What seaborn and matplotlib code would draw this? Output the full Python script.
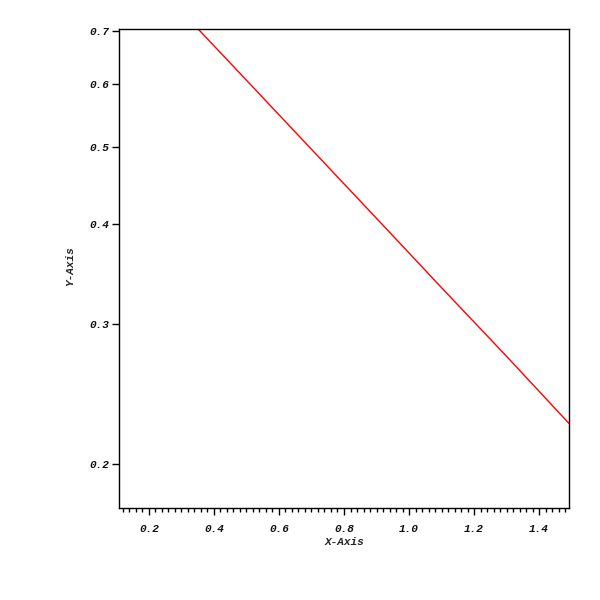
import numpy as np
import matplotlib
matplotlib.use("Agg")
import matplotlib.pyplot as plt
from matplotlib.ticker import MultipleLocator, FixedLocator, FixedFormatter, NullLocator, FormatStrFormatter
from matplotlib.font_manager import FontProperties
import seaborn as sns

# values (straight line on a log y axis)
x_vals = [0.1, 0.3, 0.5, 0.7, 0.9, 1.1, 1.3, 1.5]
y_vals = [0.905, 0.741, 0.607, 0.497, 0.407, 0.333, 0.273, 0.223]
y_ticks = [0.2, 0.3, 0.4, 0.5, 0.6, 0.7]
y_tick_labels = ["0.2", "0.3", "0.4", "0.5", "0.6", "0.7"]

sns.set_style("white")
plt.rcParams['font.family'] = ['Liberation Mono', 'DejaVu Sans Mono']

fig = plt.figure(figsize=(6, 6), dpi=100)
ax = fig.add_axes([119 / 600, 1 - 508 / 600, 450 / 600, 479 / 600])

sns.lineplot(x=x_vals, y=y_vals, ax=ax, color='red', linewidth=1.0)

ax.set_yscale('log')
ax.set_xlim(0.108, 1.492)
ax.set_ylim(0.176, 0.704)

ax.xaxis.set_major_locator(MultipleLocator(0.2))
ax.xaxis.set_minor_locator(MultipleLocator(0.02))
ax.xaxis.set_major_formatter(FormatStrFormatter('%.1f'))
ax.yaxis.set_major_locator(FixedLocator(y_ticks))
ax.yaxis.set_major_formatter(FixedFormatter(y_tick_labels))
ax.yaxis.set_minor_locator(NullLocator())

font = dict(family='Liberation Mono', weight='bold', style='italic', size=8)
fp = FontProperties(**font)
for lab in ax.get_xticklabels() + ax.get_yticklabels():
    lab.set_fontproperties(fp)

ax.tick_params(axis='both', which='major', direction='out', length=5, width=1,
               color='black', labelcolor='#111111', bottom=True, left=True)
ax.tick_params(axis='x', which='major', pad=6.5)
ax.tick_params(axis='y', which='major', pad=2)
ax.tick_params(axis='x', which='minor', direction='out', length=3, width=1,
               color='black', bottom=True)

ax.set_xlabel('X-Axis', **font)
ax.set_ylabel('Y-Axis', **font)
ax.xaxis.set_label_coords(0.5, -0.060)
ax.yaxis.set_label_coords(-0.098, 0.504)

for s in ax.spines.values():
    s.set_visible(True)
    s.set_color('black')
    s.set_linewidth(1.0)

ax.grid(False)
fig.savefig('out.png', dpi=100, facecolor='white')
